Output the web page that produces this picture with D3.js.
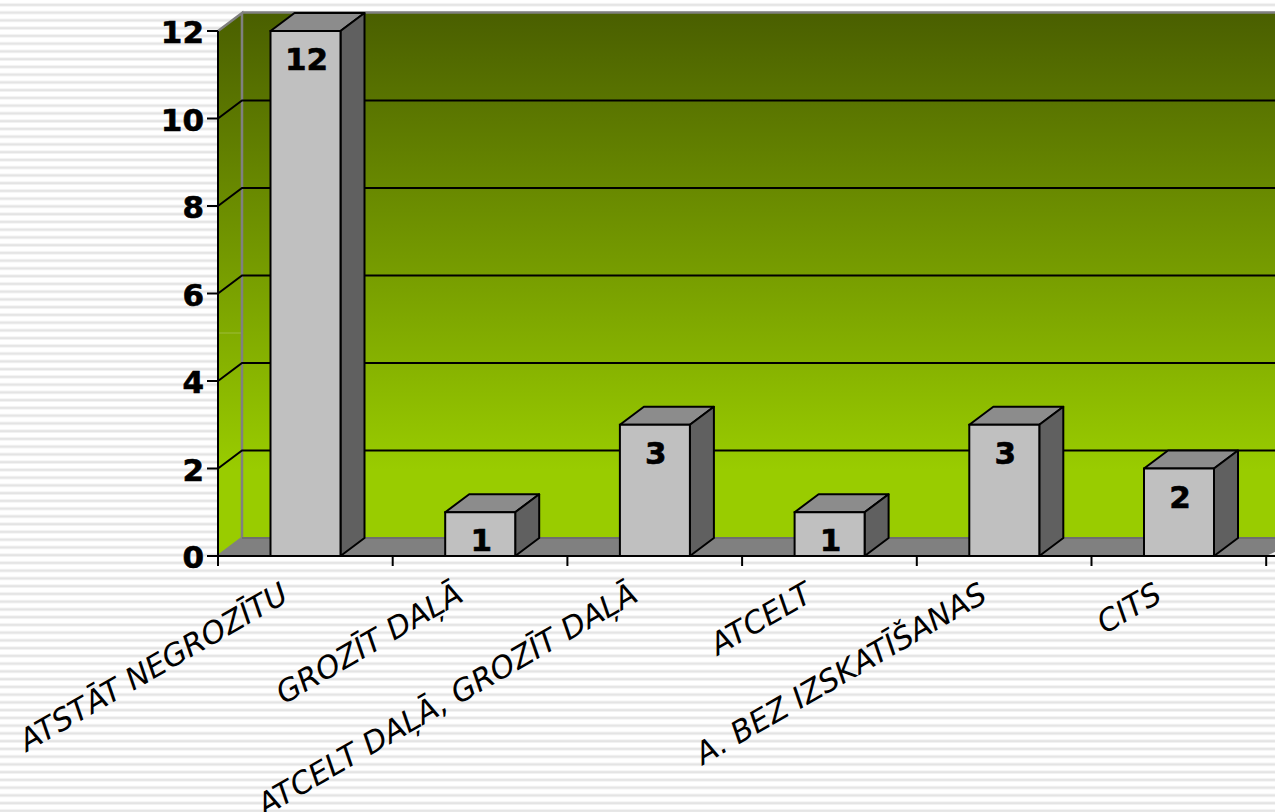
<!DOCTYPE html>
<html>
<head>
<meta charset="utf-8">
<script src="https://d3js.org/d3.v7.min.js"></script>
<style>
html, body { margin: 0; padding: 0; background: #fff; overflow: hidden; }
svg { display: block; }
text { font-family: "DejaVu Sans", sans-serif; }
</style>
</head>
<body>
<div id="chart"></div>
<script>
let categories = ['ATSTĀT NEGROZĪTU', 'GROZĪT DAĻĀ', 'ATCELT DAĻĀ, GROZĪT DAĻĀ', 'ATCELT', 'A. BEZ IZSKATĪŠANAS', 'CITS'];
let values = [12, 1, 3, 1, 3, 2];
let yTicks = [0, 2, 4, 6, 8, 10, 12];

let width = 1275, height = 812;
let depthX = 24, depthY = 18;
let x0 = 218, stepX = 174.7;

let x = d3.scaleLinear().domain([0, categories.length]).range([x0, x0 + stepX * categories.length]);
let y = d3.scaleLinear().domain([0, 12]).range([556, 31]);

let svg = d3.select('#chart').append('svg')
    .attr('width', width)
    .attr('height', height);

let defs = svg.append('defs');

// Background stripes
let stripes = defs.append('pattern')
    .attr('id', 'stripes')
    .attr('patternUnits', 'userSpaceOnUse')
    .attr('width', 8)
    .attr('height', 7.75);
stripes.append('rect').attr('width', 8).attr('height', 8).attr('fill', '#fff');
stripes.append('rect').attr('y', 3.2).attr('width', 8).attr('height', 3.4).attr('fill', '#f1f1f1');
stripes.append('rect').attr('y', 4).attr('width', 8).attr('height', 1.8).attr('fill', '#e4e4e4');

let wallGrad = defs.append('linearGradient')
    .attr('id', 'wallGrad')
    .attr('gradientUnits', 'userSpaceOnUse')
    .attr('x1', 0).attr('x2', 0)
    .attr('y1', 13).attr('y2', 470);
wallGrad.append('stop').attr('offset', 0).attr('stop-color', '#4a5f00');
wallGrad.append('stop').attr('offset', 1).attr('stop-color', '#99cc00');

svg.append('rect').attr('width', width).attr('height', height).attr('fill', 'url(#stripes)');

let line = d3.line();

// Back wall and side wall
svg.append('rect')
    .attr('x', x0 + depthX).attr('y', y(12) - depthY)
    .attr('width', width - x0 - depthX)
    .attr('height', y(0) - y(12))
    .attr('fill', 'url(#wallGrad)');

svg.append('path')
    .attr('d', line([[x0, y(0)], [x0, y(12)], [x0 + depthX, y(12) - depthY], [x0 + depthX, y(0) - depthY]]) + 'Z')
    .attr('fill', 'url(#wallGrad)');

// light seam on the side wall
svg.append('line')
    .attr('x1', x0 + 1).attr('x2', x0 + depthX)
    .attr('y1', 333).attr('y2', 333)
    .attr('stroke', '#9dbb3c').attr('stroke-width', 1);

// Floor
svg.append('path')
    .attr('d', line([[x0, y(0)], [x0 + depthX, y(0) - depthY], [width + 30, y(0) - depthY], [x(6), y(0)]]) + 'Z')
    .attr('fill', '#808080');

// Wall edges
svg.append('path')
    .attr('d', line([[x0, y(12)], [x0 + depthX, y(12) - depthY], [x0 + depthX, y(0) - depthY], [x0, y(0)]]))
    .attr('fill', 'none').attr('stroke', '#808080').attr('stroke-width', 2.5);
svg.append('line')
    .attr('x1', x0 + depthX).attr('x2', width)
    .attr('y1', y(12) - depthY - 0.5).attr('y2', y(12) - depthY - 0.5)
    .attr('stroke', '#808080').attr('stroke-width', 2.5);
svg.append('line')
    .attr('x1', x0 + depthX).attr('x2', width)
    .attr('y1', y(0) - depthY).attr('y2', y(0) - depthY)
    .attr('stroke', '#6f6f6f').attr('stroke-width', 2);

// Gridlines
let gridTicks = yTicks.filter(d => d > 0 && d < 12);
svg.append('g').selectAll('path')
    .data(gridTicks)
    .join('path')
    .attr('d', d => line([[x0, y(d)], [x0 + depthX, y(d) - depthY], [width, y(d) - depthY]]))
    .attr('fill', 'none')
    .attr('stroke', '#000')
    .attr('stroke-width', 2);

// Axes
let yAxis = svg.append('g');
yAxis.append('line')
    .attr('x1', x0).attr('x2', x0)
    .attr('y1', y(12)).attr('y2', y(0))
    .attr('stroke', '#000').attr('stroke-width', 2);
yAxis.selectAll('line.tick')
    .data(yTicks)
    .join('line')
    .attr('class', 'tick')
    .attr('x1', x0 - 11).attr('x2', x0)
    .attr('y1', d => y(d)).attr('y2', d => y(d))
    .attr('stroke', '#000').attr('stroke-width', 2);
yAxis.selectAll('text')
    .data(yTicks)
    .join('text')
    .attr('x', x0 - 14)
    .attr('y', d => y(d) + 12)
    .attr('text-anchor', 'end')
    .attr('font-size', 31)
    .attr('font-weight', 'bold')
    .attr('stroke', '#000')
    .attr('stroke-width', 0.6)
    .text(d => d);

let xAxis = svg.append('g');
xAxis.append('line')
    .attr('x1', x0 - 11).attr('x2', width)
    .attr('y1', y(0)).attr('y2', y(0))
    .attr('stroke', '#000').attr('stroke-width', 2);
xAxis.selectAll('line.tick')
    .data(d3.range(categories.length + 1))
    .join('line')
    .attr('class', 'tick')
    .attr('x1', d => x(d)).attr('x2', d => x(d))
    .attr('y1', y(0)).attr('y2', y(0) + 10)
    .attr('stroke', '#000').attr('stroke-width', 2);

// Bars
let barW = 70, barPad = 52.5;
let bars = svg.append('g').selectAll('g')
    .data(values)
    .join('g');

bars.append('path')
    .attr('d', (d, i) => {
        let l = x(i) + barPad, r = l + barW, t = y(d);
        return line([[l, t], [l + depthX, t - depthY], [r + depthX, t - depthY], [r, t]]) + 'Z';
    })
    .attr('fill', '#8c8c8c').attr('stroke', '#000').attr('stroke-width', 2).attr('stroke-linejoin', 'round');
bars.append('path')
    .attr('d', (d, i) => {
        let r = x(i) + barPad + barW, t = y(d);
        return line([[r, t], [r + depthX, t - depthY], [r + depthX, y(0) - depthY], [r, y(0)]]) + 'Z';
    })
    .attr('fill', '#606060').attr('stroke', '#000').attr('stroke-width', 2).attr('stroke-linejoin', 'round');
bars.append('rect')
    .attr('x', (d, i) => x(i) + barPad)
    .attr('y', d => y(d))
    .attr('width', barW)
    .attr('height', d => y(0) - y(d))
    .attr('fill', '#c0c0c0').attr('stroke', '#000').attr('stroke-width', 2);

// Value labels
bars.append('text')
    .attr('x', (d, i) => x(i) + barPad + barW / 2 + 1)
    .attr('y', d => y(d) + 39)
    .attr('text-anchor', 'middle')
    .attr('font-size', 31)
    .attr('font-weight', 'bold')
    .attr('stroke', '#000')
    .attr('stroke-width', 0.6)
    .text(d => d);

// Category labels
svg.append('g').selectAll('text')
    .data(categories)
    .join('text')
    .attr('transform', (d, i) => `translate(${x(i) + stepX / 2 - 15},${y(0) + 44}) rotate(-30)`)
    .attr('text-anchor', 'end')
    .attr('font-size', 30.5)
    .attr('font-style', 'italic')
    .text(d => d);
</script>
</body>
</html>
